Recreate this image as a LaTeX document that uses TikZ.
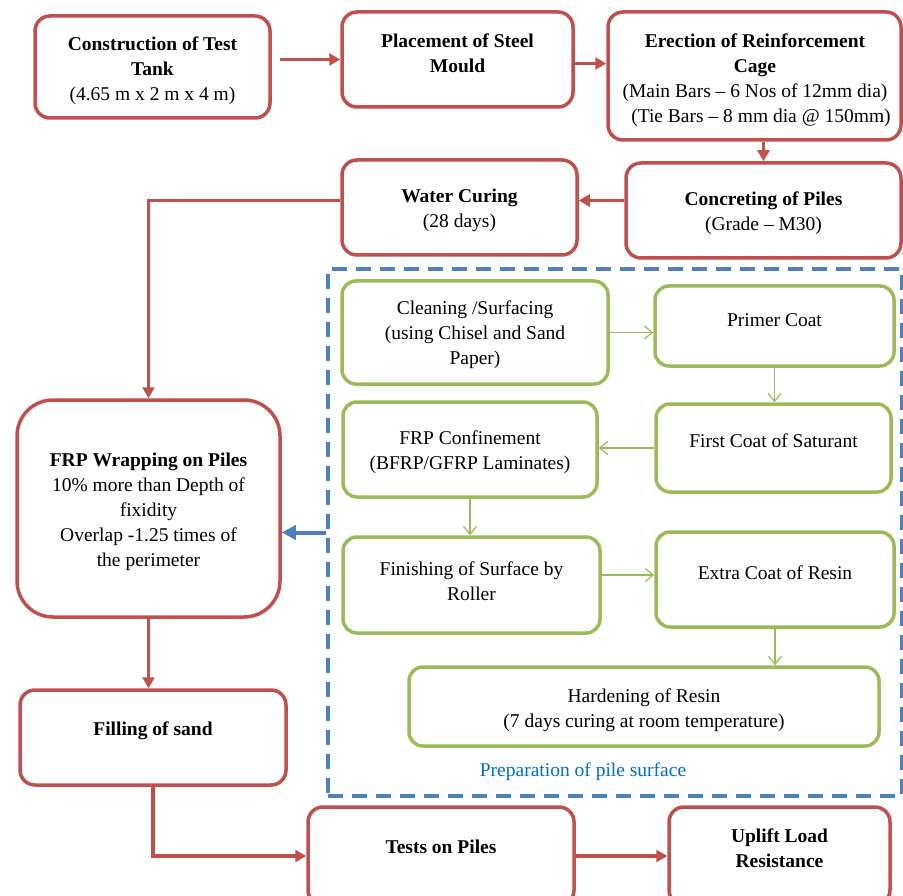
\documentclass[tikz,border=0pt]{standalone}
\usepackage{fontspec}
\setmainfont{Liberation Serif}
\usetikzlibrary{arrows.meta}
\definecolor{rd}{HTML}{C0504D}
\definecolor{gr}{HTML}{9BBB59}
\definecolor{bl}{HTML}{4F81BD}
\definecolor{lbl}{HTML}{0070C0}
\begin{document}
\begin{tikzpicture}[x=1pt,y=-1pt,
  redbox/.style={draw=rd, line width=3.5pt, rounded corners=15pt, inner sep=0pt},
  bigredbox/.style={redbox, rounded corners=36pt},
  greenbox/.style={draw=gr, line width=3.5pt, rounded corners=14pt, inner sep=0pt},
  dashbox/.style={draw=bl, line width=3.5pt, dash pattern=on 15pt off 9pt, inner sep=0pt},
  txt/.style={align=center, font=\fontsize{19.5}{25}\selectfont, inner sep=0pt},
  redarr/.style={draw=rd, line width=3.5pt, -{Triangle[length=11pt,width=12pt]}},
  bluearr/.style={draw=bl, line width=4pt, -{Triangle[length=14pt,width=14pt]}},
  greenarr/.style={draw=gr, line width=1.2pt, -{Straight Barb[length=8pt,width=13pt]}}
]
\useasboundingbox (0,0) rectangle (903,896);
\clip (0,0) rectangle (903,896);
\fill[white] (0,0) rectangle (903,896);

% red boxes
\node[redbox, minimum width=235pt, minimum height=102pt] (b1) at (152.5,67) {};
\node[redbox, minimum width=231pt, minimum height=95pt] (b2) at (457.5,59.5) {};
\node[redbox, minimum width=293pt, minimum height=128pt] (b3) at (754.5,76) {};
\node[redbox, minimum width=275pt, minimum height=95pt] (b4) at (763.5,210.5) {};
\node[redbox, minimum width=235pt, minimum height=95pt] (b5) at (459.5,207.5) {};
\node[bigredbox, minimum width=263pt, minimum height=217pt] (b6) at (148.5,508.5) {};
\node[redbox, minimum width=266pt, minimum height=95pt] (b7) at (153,737.5) {};
\node[redbox, minimum width=266pt, minimum height=98pt] (b8) at (441,856) {};
\node[redbox, minimum width=221pt, minimum height=98pt] (b9) at (779.5,856) {};

% dashed group
\node[dashbox, minimum width=574pt, minimum height=527pt] (prep) at (615,532.5) {};

% green boxes
\node[greenbox, minimum width=266pt, minimum height=103pt] (g1) at (475,332.5) {};
\node[greenbox, minimum width=239pt, minimum height=80pt] (g2) at (774.5,326) {};
\node[greenbox, minimum width=235pt, minimum height=88pt] (g3) at (773.5,448) {};
\node[greenbox, minimum width=254pt, minimum height=95pt] (g4) at (470,449.5) {};
\node[greenbox, minimum width=257pt, minimum height=96pt] (g5) at (471.5,585) {};
\node[greenbox, minimum width=238pt, minimum height=95pt] (g6) at (775,579.5) {};
\node[greenbox, minimum width=470pt, minimum height=79pt] (g7) at (644,706.5) {};

% texts
\node[txt] (t1) at (152.5,71) {\textbf{Construction of Test}\\\textbf{Tank}\\(4.65 m x 2 m x 4 m)};
\node[txt] (t2) at (457.5,53) {\textbf{Placement of Steel}\\\textbf{Mould}};
\node[txt] (t3) at (755,80) {\textbf{Erection of Reinforcement}\\\textbf{Cage}\\(Main Bars – 6 Nos of 12mm dia)\\\hspace*{12pt}(Tie Bars – 8 mm dia @ 150mm)};
\node[txt] (t4) at (763.5,213.5) {\textbf{Concreting of Piles}\\(Grade – M30)};
\node[txt] (t5) at (459.5,210) {\textbf{Water Curing}\\(28 days)};
\node[txt] (t6) at (148.5,512) {\textbf{FRP Wrapping on Piles}\\10\% more than Depth of\\fixidity\\Overlap -1.25 times of\\the perimeter};
\node[txt] (t7) at (153,731) {\textbf{Filling of sand}};
\node[txt] (t8) at (441,847) {\textbf{Tests on Piles}};
\node[txt] (t9) at (779.5,848) {\textbf{Uplift Load}\\\textbf{Resistance}};
\node[txt] (tg1) at (475,335) {Cleaning /Surfacing\\(using Chisel and Sand\\Paper)};
\node[txt] (tg2) at (774.5,320) {Primer Coat};
\node[txt] (tg3) at (773.5,441) {First Coat of Saturant};
\node[txt] (tg4) at (470,452) {FRP Confinement\\(BFRP/GFRP Laminates)};
\node[txt] (tg5) at (471.5,581) {Finishing of Surface by\\Roller};
\node[txt] (tg6) at (775,573) {Extra Coat of Resin};
\node[txt] (tg7) at (644,710.5) {Hardening of Resin\\(7 days curing at room temperature)};
\node[txt, text=lbl] (lab) at (583,772) {Preparation of pile surface};

% red connectors
\draw[redarr] ([xshift=8pt]b1.east |- b2.west) -- (b2.west);
\draw[redarr] ([yshift=-4pt]b2.east) -- ([yshift=-4pt]b2.east -| b3.west);
\draw[redarr] (b4.north |- b3.south) -- (b4.north);
\draw[redarr] ([yshift=10pt]b4.west) -- ([yshift=10pt]b4.west -| b5.east);
\draw[redarr] ([yshift=7pt]b5.west) -| (b6.north);
\draw[redarr] (b6.south) -- (b6.south |- b7.north);
\draw[redarr] (b7.south) |- (b8.west);
\draw[redarr] (b8.east) -- (b9.west);

% blue connector
\draw[bluearr] (prep.west) -- (prep.west -| b6.east);

% green connectors
\draw[greenarr] (g1.east) -- (g1.east -| g2.west);
\draw[greenarr] (g2.south) -- (g2.south |- g3.north);
\draw[greenarr] (g3.west) -- (g3.west -| g4.east);
\draw[greenarr] (g4.south) -- (g4.south |- g5.north);
\draw[greenarr] ([yshift=10pt]g5.east) -- ([yshift=10pt]g5.east -| g6.west);
\draw[greenarr] (g6.south) -- (g6.south |- g7.north);
\end{tikzpicture}
\end{document}
